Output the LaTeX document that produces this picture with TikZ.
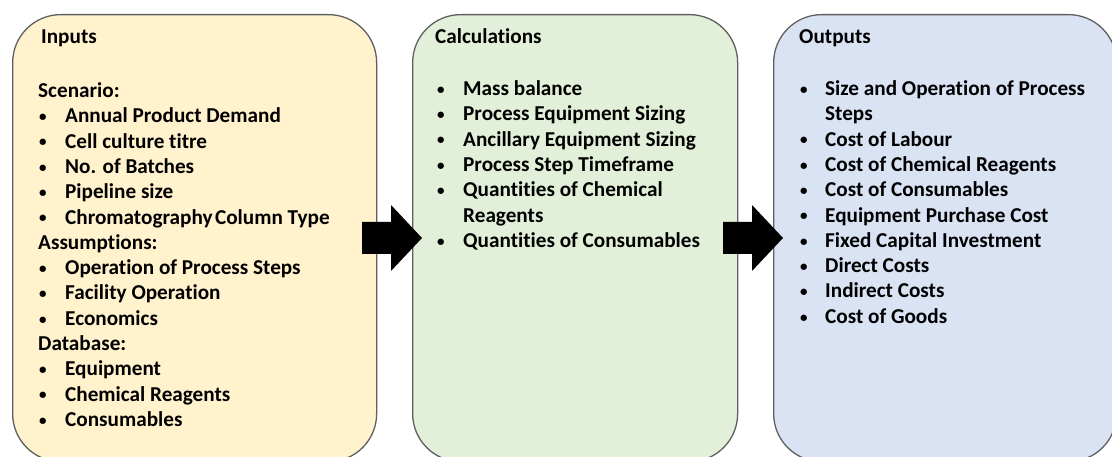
\documentclass[tikz,border=0pt]{standalone}
\usepackage{fontspec}
\setmainfont{Carlito}[Ligatures=NoCommon]
\usepackage{array}
\definecolor{inyellow}{HTML}{FFF2CC}
\definecolor{calcgreen}{HTML}{E2F0D9}
\definecolor{outblue}{HTML}{DAE3F3}
\definecolor{edgegray}{HTML}{5F5F5F}
% one bulleted line; #1 is the width from the bullet to the item text
\newcommand\smallbullet{\raisebox{1.2pt}{\fontsize{15}{15}\selectfont\textbullet}}
\newcommand\itm[2]{\makebox[#1][l]{\hspace*{3pt}\smallbullet}#2}
\newcommand\cnt[2]{\hspace*{#1}#2}
\begin{document}
\begin{tikzpicture}[x=1pt,y=-1pt,
  panel/.style={draw=edgegray, line width=1.3pt, rounded corners=48pt,
    rectangle, anchor=north west, inner sep=0pt},
  listtext/.style={anchor=base west, inner sep=0pt,
    font=\fontsize{21.2}{25.3}\selectfont\bfseries},
  blockfill/.style={fill=black}]
\useasboundingbox (0,0) rectangle (1112,457);

% the three panels
\node[panel, fill=inyellow, minimum width=364pt, minimum height=447pt] (inputs) at (12,14) {};
\node[panel, fill=calcgreen, minimum width=325pt, minimum height=447pt] (calc) at (412,14) {};
\node[panel, fill=outblue, minimum width=343pt, minimum height=447pt] (outputs) at (773,14) {};

% block arrows between the panels
\coordinate (a1) at (362,238);
\coordinate (a2) at (723,238);
\foreach \a in {a1,a2}{
  \fill[blockfill] (\a) ++(0,-16) -- ++(29,0) -- ++(0,-17) -- ++(31,33)
    -- ++(-31,33) -- ++(0,-17) -- ++(-29,0) -- cycle;
}

% panel contents
\node[listtext] (intext) at (36,44) {%
\begin{tabular}[t]{@{}l@{}}
\hspace*{5pt}Inputs\\[3pt]
\\
\hspace*{2pt}Scenario:\\
\itm{29pt}{Annual Product Demand}\\
\itm{29pt}{Cell culture titre}\\
\itm{29pt}{No. of Batches}\\
\itm{29pt}{Pipeline size}\\
\itm{29pt}{Chromatography\hspace{0.12em}Column Type}\\
\hspace*{2pt}Assumptions:\\
\itm{29pt}{Operation of Process Steps}\\
\itm{29pt}{Facility Operation}\\
\itm{29pt}{Economics}\\
\hspace*{2pt}Database:\\
\itm{29pt}{Equipment}\\
\itm{29pt}{Chemical Reagents}\\
\itm{29pt}{Consumables}
\end{tabular}};

\node[listtext] (calctext) at (434,44) {%
\begin{tabular}[t]{@{}l@{}}
\hspace*{1pt}Calculations\\[1pt]
\\
\itm{29pt}{Mass balance}\\
\itm{29pt}{Process Equipment Sizing}\\
\itm{29pt}{Ancillary Equipment Sizing}\\
\itm{29pt}{Process Step Timeframe}\\
\itm{29pt}{Quantities of Chemical}\\
\cnt{29pt}{Reagents}\\
\itm{29pt}{Quantities of Consumables}
\end{tabular}};

\node[listtext] (outtext) at (797,44) {%
\begin{tabular}[t]{@{}l@{}}
\hspace*{2pt}Outputs\\[1pt]
\\
\itm{28pt}{Size and Operation of Process}\\
\cnt{28pt}{Steps}\\
\itm{28pt}{Cost of Labour}\\
\itm{28pt}{Cost of Chemical Reagents}\\
\itm{28pt}{Cost of Consumables}\\
\itm{28pt}{Equipment Purchase Cost}\\
\itm{28pt}{Fixed Capital Investment}\\
\itm{28pt}{Direct Costs}\\
\itm{28pt}{Indirect Costs}\\
\itm{28pt}{Cost of Goods}
\end{tabular}};
\end{tikzpicture}
\end{document}
